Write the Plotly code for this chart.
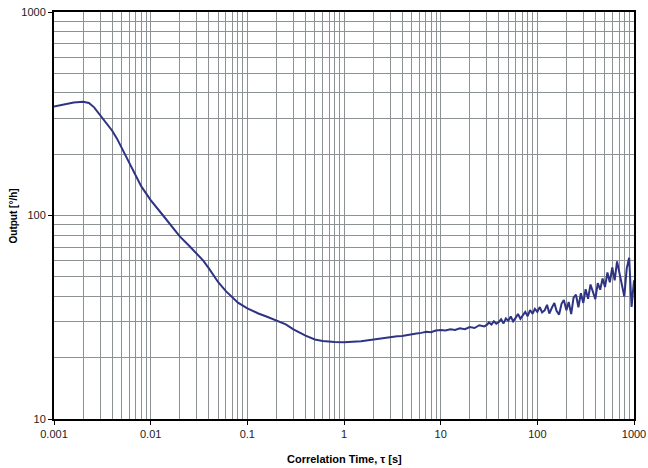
import plotly.graph_objects as go

# smooth part of the curve
tau_smooth = [0.001, 0.0013, 0.0016, 0.002, 0.0023, 0.0026, 0.003, 0.0035, 0.004,
              0.0045, 0.005, 0.006, 0.007, 0.008, 0.009, 0.01, 0.013, 0.016, 0.02,
              0.025, 0.03, 0.035, 0.04, 0.05, 0.06, 0.07, 0.08, 0.1, 0.13, 0.16,
              0.2, 0.25, 0.3, 0.4, 0.5, 0.6, 0.8, 1.0, 1.5, 2.0, 2.5]
out_smooth = [343, 352, 359, 362, 357, 340, 312, 285, 261,
              238, 216, 182, 157, 139, 128, 119, 102, 90, 79,
              71, 65, 60, 55, 47, 42.5, 39.5, 37.3, 35, 33, 31.8,
              30.6, 29.2, 27.6, 25.7, 24.6, 24.2, 23.9, 23.8, 24.1, 24.6, 24.9]

# noisy tail
tau_noisy = [3.16, 3.55, 3.98, 4.47, 5.01, 5.62, 6.31, 7.08, 7.94, 8.91,
             10, 11.2, 12.6, 14.1, 15.8, 17.8, 20, 22.4, 25.1, 28.2,
             30, 31.6, 33.5, 35.5, 37.6, 39.8, 42.2, 44.7, 47.3, 50.1, 53.1, 56.2,
             59.6, 63.1, 66.8, 70.8, 75, 79.4, 84.1, 89.1, 94.4,
             100, 106, 112, 119, 126, 133, 141, 150, 158, 168, 178, 188, 200, 211,
             224, 237, 251, 266, 282, 299, 316, 335, 355, 376, 398, 422, 447, 473,
             501, 531, 562, 596, 631, 668, 708, 750, 794, 841, 891, 944, 1000]
out_noisy = [25.3, 25.5, 25.6, 25.9, 26.0, 26.3, 26.5, 26.8, 26.7, 27.2,
             27.4, 27.2, 27.6, 27.4, 27.9, 27.6, 28.3, 28.0, 28.9, 28.5,
             29.0, 29.8, 29.1, 30.2, 29.4, 29.9, 30.9, 29.5, 31.2, 30.4, 31.9, 30.2,
             31.4, 32.8, 31.1, 32.2, 33.6, 32.0, 34.3, 32.9, 34.8,
             33.6, 35.5, 33.4, 34.2, 36.4, 33.0, 35.1, 37.2, 34.0, 32.6, 36.8, 38.4, 34.2, 37.6,
             32.8, 39.5, 40.8, 35.4, 41.5, 37.2, 43.4, 39.0, 45.8, 42.0, 38.8, 46.5, 43.2, 49.0,
             44.5, 52.5, 47.0, 55.6, 48.0, 59.5, 52.0, 46.0, 40.0, 55.0, 62.0, 35.5, 48.0]

x_ticks = [0.001, 0.01, 0.1, 1, 10, 100, 1000]
x_labels = ["0.001", "0.01", "0.1", "1", "10", "100", "1000"]
y_ticks = [10, 100, 1000]
y_labels = ["10", "100", "1000"]

x_minor = [m * d for d in [0.001, 0.01, 0.1, 1, 10, 100] for m in range(2, 10)]
y_minor = [m * d for d in [10, 100] for m in range(2, 10)]

grid = "#8c9193"
font = "Liberation Sans, Arial, sans-serif"

fig = go.Figure()
fig.add_trace(go.Scatter(
    x=tau_smooth + tau_noisy,
    y=out_smooth + out_noisy,
    mode="lines",
    line=dict(color="#2e3483", width=2),
    showlegend=False,
))

axis_common = dict(
    type="log", showline=True, linecolor="black", linewidth=2, mirror=True,
    showgrid=True, gridcolor=grid, gridwidth=1, zeroline=False,
    ticks="outside", ticklen=4, tickcolor="black", automargin=False,
    tickfont=dict(family=font, size=11, color="#222"),
)

fig.update_xaxes(
    range=[-3, 3], tickvals=x_ticks, ticktext=x_labels,
    minor=dict(tickvals=x_minor, showgrid=True, gridcolor=grid, ticks=""),
    **axis_common,
)
fig.update_yaxes(
    range=[1, 3], tickvals=y_ticks, ticktext=y_labels,
    minor=dict(tickvals=y_minor, showgrid=True, gridcolor=grid, ticks=""),
    **axis_common,
)
fig.add_annotation(text="<b>Correlation Time, τ [s]</b>", xref="paper", yref="paper",
                   x=0.5, y=-0.098, xanchor="center", yanchor="middle", showarrow=False,
                   font=dict(family=font, size=11, color="black"))
fig.add_annotation(text="<b>Output [°/h]</b>", xref="paper", yref="paper",
                   x=-0.069, y=0.5, xanchor="center", yanchor="middle", showarrow=False,
                   textangle=-90, font=dict(family=font, size=10, color="black"))
fig.update_layout(
    width=648, height=468,
    margin=dict(l=54, r=14, t=12, b=49),
    paper_bgcolor="white", plot_bgcolor="white",
)
fig.write_html("out.html", config={"displayModeBar": False},
               post_script="document.body.style.margin='0';")
